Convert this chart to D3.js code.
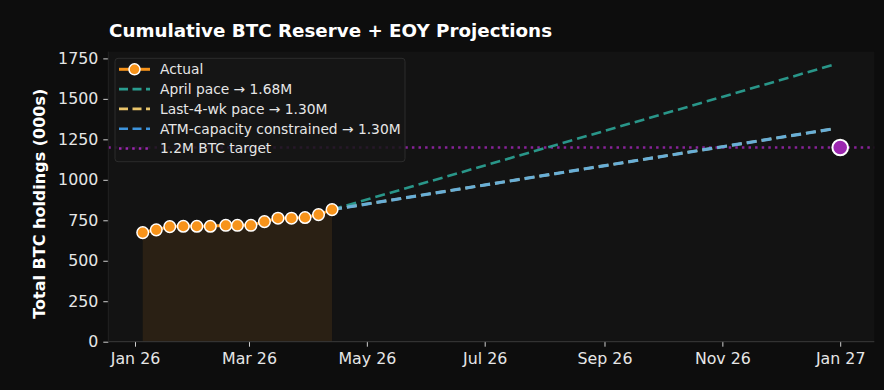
<!DOCTYPE html>
<html><head><meta charset="utf-8">
<script src="https://cdn.jsdelivr.net/npm/d3@7"></script>
<style>
html,body{margin:0;padding:0;background:#0d0d0d;}
svg{display:block;font-family:"DejaVu Sans",sans-serif;}
</style></head>
<body>
<svg id="chart" width="884" height="390"></svg>
<script>
// ---- data ----
const actualDates = ["2026-01-05","2026-01-12","2026-01-19","2026-01-26","2026-02-02","2026-02-09","2026-02-17","2026-02-23","2026-03-02","2026-03-09","2026-03-16","2026-03-23","2026-03-30","2026-04-06","2026-04-13"];
const actualValues = [674, 691, 711, 713, 713, 713, 719, 719, 719, 742, 763, 763, 767, 785, 816];
const projStartDate = "2026-04-13";
const projEndDate = "2026-12-28";
const aprilPaceEnd = 1709;
const last4wkEnd = 1314;
const atmEnd = 1314;
const targetValue = 1200;
const targetDate = "2027-01-01";
const xTickDates = ["2026-01-01","2026-03-01","2026-05-01","2026-07-01","2026-09-01","2026-11-01","2027-01-01"];
const yTicks = [0, 250, 500, 750, 1000, 1250, 1500, 1750];
const legendLabels = ["Actual", "April pace \u2192 1.68M", "Last-4-wk pace \u2192 1.30M", "ATM-capacity constrained \u2192 1.30M", "1.2M BTC target"];
const titleText = "Cumulative BTC Reserve + EOY Projections";
const yLabelText = "Total BTC holdings (000s)";

// ---- setup ----
const parse = d3.utcParse("%Y-%m-%d");
const svg = d3.select("#chart");
const plotL = 108.3, plotR = 874.3, plotT = 51.7, plotB = 341.7;

const x = d3.scaleUtc()
  .domain([parse("2026-01-01"), parse("2027-01-01")])
  .range([135, 840.2]);
const y = d3.scaleLinear().domain([0, 1750]).range([341.7, 58.4]);

const C = {
  orange: "#f7931a", green: "#2a9d8f", yellow: "#e9c46a", blue: "#62aedc",
  purple: "#9c27b0", text: "#e6e6e6", spine: "#3a3a3a"
};

// plot background
svg.append("rect").attr("x", plotL).attr("y", plotT)
  .attr("width", plotR - plotL).attr("height", plotB - plotT).attr("fill", "#131313");

svg.append("defs").append("clipPath").attr("id", "clip")
  .append("rect").attr("x", plotL).attr("y", plotT).attr("width", plotR - plotL).attr("height", plotB - plotT);

const g = svg.append("g").attr("clip-path", "url(#clip)");

const actual = actualDates.map((d, i) => ({ date: parse(d), v: actualValues[i] }));

// fill under actual
g.append("path").datum(actual)
  .attr("d", d3.area().x(d => x(d.date)).y0(y(0)).y1(d => y(d.v)))
  .attr("fill", C.orange).attr("fill-opacity", 0.1);

// target line
g.append("line").attr("x1", plotL).attr("x2", plotR)
  .attr("y1", y(targetValue)).attr("y2", y(targetValue))
  .attr("stroke", C.purple).attr("stroke-width", 2.5)
  .attr("stroke-dasharray", "2.5,4.1").attr("opacity", 0.85);

// projections
const projs = [
  { end: aprilPaceEnd, color: C.green, w: 2.6 },
  { end: last4wkEnd, color: C.yellow, w: 2.6 },
  { end: atmEnd, color: C.blue, w: 3.2 }
];
const startV = actualValues[actualValues.length - 1];
const line = d3.line().x(d => x(d.date)).y(d => y(d.v));
projs.forEach(p => {
  g.append("path")
    .datum([{ date: parse(projStartDate), v: startV }, { date: parse(projEndDate), v: p.end }])
    .attr("d", line).attr("fill", "none").attr("stroke", p.color)
    .attr("stroke-width", p.w).attr("stroke-dasharray", "10,5").attr("opacity", 0.95);
});

// actual line
g.append("path").datum(actual).attr("d", line)
  .attr("fill", "none").attr("stroke", C.orange).attr("stroke-width", 3);
g.selectAll("circle.a").data(actual).join("circle").attr("class", "a")
  .attr("cx", d => x(d.date)).attr("cy", d => y(d.v)).attr("r", 5.8)
  .attr("fill", C.orange).attr("stroke", "#ffffff").attr("stroke-width", 1.5);

// target marker
svg.append("circle").attr("cx", x(parse(targetDate))).attr("cy", y(targetValue)).attr("r", 7.8)
  .attr("fill", C.purple).attr("stroke", "#ffffff").attr("stroke-width", 2);

// axes
const xAxis = svg.append("g").attr("transform", `translate(0,${plotB})`)
  .call(d3.axisBottom(x).tickValues(xTickDates.map(parse)).tickFormat(d3.utcFormat("%b %y")).tickSize(5).tickPadding(6));
xAxis.select(".domain").remove();
svg.append("line").attr("x1", plotL).attr("x2", plotR).attr("y1", plotB).attr("y2", plotB)
  .attr("stroke", C.spine).attr("stroke-width", 1);

const yAxis = svg.append("g").attr("transform", `translate(${plotL},0)`)
  .call(d3.axisLeft(y).tickValues(yTicks).tickFormat(d3.format("d")).tickSize(5).tickPadding(5));
yAxis.select(".domain").remove();
svg.append("line").attr("x1", plotL).attr("x2", plotL).attr("y1", plotT).attr("y2", plotB)
  .attr("stroke", "#222").attr("stroke-width", 1);

[xAxis, yAxis].forEach(a => {
  a.selectAll(".tick line").attr("stroke", "#d0d0d0").attr("stroke-width", 1);
  a.selectAll(".tick text").attr("fill", C.text).attr("font-size", 15.8)
    .attr("font-family", "DejaVu Sans, sans-serif");
});

// title & y label
svg.append("text").attr("x", 109).attr("y", 36.5).text(titleText)
  .attr("fill", "#ffffff").attr("font-size", 18.3).attr("font-weight", "bold");
svg.append("text").attr("transform", `translate(45,${(plotT + plotB) / 2 + 7}) rotate(-90)`)
  .attr("text-anchor", "middle").text(yLabelText)
  .attr("fill", "#ffffff").attr("font-size", 16).attr("font-weight", "bold");

// legend
const lg = svg.append("g");
lg.append("rect").attr("x", 115).attr("y", 58.3).attr("width", 290).attr("height", 103.4).attr("rx", 3)
  .attr("fill", "#161616").attr("fill-opacity", 0.85).attr("stroke", "#2c2c2c").attr("stroke-width", 1);
const legendStyles = [
  { color: C.orange, dash: null, w: 3, marker: true },
  { color: C.green, dash: "9,4.5", w: 2.6 },
  { color: C.yellow, dash: "9,4.5", w: 2.6 },
  { color: "#3d93dc", dash: "9,4.5", w: 2.6 },
  { color: C.purple, dash: "2.5,4.1", w: 2.5 }
];
legendLabels.forEach((lab, i) => {
  const yy = 69.3 + i * 19.8;
  const s = legendStyles[i];
  lg.append("line").attr("x1", 119).attr("x2", 150).attr("y1", yy).attr("y2", yy)
    .attr("stroke", s.color).attr("stroke-width", s.w).attr("stroke-dasharray", s.dash);
  if (s.marker) lg.append("circle").attr("cx", 134.5).attr("cy", yy).attr("r", 5.5)
    .attr("fill", C.orange).attr("stroke", "#fff").attr("stroke-width", 1.5);
  lg.append("text").attr("x", 160).attr("y", yy + 4.8).text(lab)
    .attr("fill", C.text).attr("font-size", 13.8);
});
</script>
</body></html>
